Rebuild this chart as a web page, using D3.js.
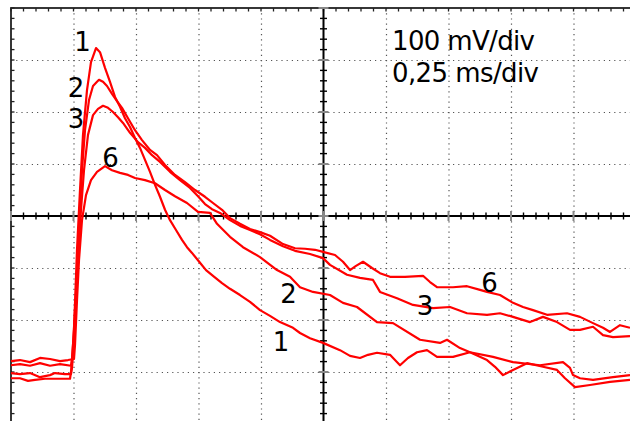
<!DOCTYPE html>
<html>
<head>
<meta charset="utf-8">
<script src="https://cdn.jsdelivr.net/npm/d3@7"></script>
<style>
  html, body { margin: 0; padding: 0; background: #fff; overflow: hidden; }
  svg { display: block; }
  text { font-family: "DejaVu Sans", Verdana, sans-serif; fill: #000; }
</style>
</head>
<body>
<script>
// Scope traces: [time in ms, voltage in mV], screen centre = 0 mV
var trace1 = [[0,-287],[0.036,-285],[0.076,-288],[0.116,-283],[0.156,-288],[0.196,-285],[0.240,-288],
  [0.244,-277],[0.252,-219],[0.264,-65],[0.276,50],[0.288,156],[0.304,242],[0.320,296],[0.340,323],
  [0.356,315],[0.376,285],[0.396,258],[0.416,229],[0.436,210],[0.456,188],[0.476,171],[0.496,150],
  [0.516,131],[0.536,108],[0.556,85],[0.576,60],[0.596,37],[0.616,12],[0.636,-8],[0.660,-27],
  [0.684,-46],[0.704,-60],[0.724,-71],[0.756,-90],[0.780,-104],[0.808,-115],[0.844,-129],[0.876,-140],
  [0.916,-152],[0.956,-165],[0.996,-181],[1.036,-192],[1.076,-204],[1.128,-215],[1.156,-225],
  [1.196,-235],[1.248,-244],[1.316,-258],[1.356,-269],[1.396,-273],[1.428,-267],[1.464,-263],
  [1.516,-267],[1.556,-287],[1.588,-273],[1.624,-262],[1.664,-258],[1.704,-271],[1.768,-271],
  [1.836,-262],[1.904,-277],[1.936,-290],[1.968,-306],[2.008,-296],[2.064,-283],[2.128,-290],
  [2.184,-296],[2.216,-312],[2.256,-329],[2.316,-325],[2.396,-319],[2.476,-315]];

var trace2 = [[0,-302],[0.036,-304],[0.076,-302],[0.116,-310],[0.156,-306],[0.176,-302],[0.216,-304],
  [0.240,-304],[0.244,-292],[0.252,-238],[0.260,-162],[0.272,-27],[0.284,88],[0.296,165],[0.312,223],
  [0.328,250],[0.344,258],[0.352,262],[0.368,258],[0.384,250],[0.404,235],[0.424,221],[0.444,208],
  [0.468,188],[0.496,165],[0.524,146],[0.556,127],[0.584,117],[0.616,98],[0.656,79],[0.696,65],
  [0.736,50],[0.776,37],[0.808,25],[0.844,12],[0.876,-4],[0.916,-15],[0.956,-25],[0.996,-31],
  [1.036,-38],[1.088,-54],[1.136,-62],[1.176,-63],[1.216,-65],[1.248,-69],[1.296,-75],[1.328,-88],
  [1.356,-104],[1.380,-96],[1.408,-88],[1.444,-100],[1.476,-110],[1.516,-117],[1.576,-117],
  [1.648,-115],[1.676,-127],[1.704,-137],[1.768,-137],[1.824,-135],[1.876,-142],[1.904,-146],
  [1.956,-152],[2.008,-167],[2.048,-175],[2.088,-181],[2.144,-190],[2.224,-187],[2.276,-194],
  [2.328,-206],[2.368,-215],[2.396,-223],[2.436,-210],[2.476,-215]];

var trace3 = [[0,-312],[0.036,-312],[0.068,-317],[0.096,-315],[0.136,-313],[0.176,-313],[0.236,-313],
  [0.240,-300],[0.248,-248],[0.256,-181],[0.268,-85],[0.280,12],[0.292,88],[0.308,156],[0.328,194],
  [0.348,206],[0.368,212],[0.388,208],[0.408,200],[0.428,190],[0.448,179],[0.476,160],[0.508,142],
  [0.536,131],[0.564,117],[0.596,104],[0.636,85],[0.676,69],[0.716,54],[0.748,38],[0.776,23],
  [0.804,13],[0.836,6],[0.876,-8],[0.916,-19],[0.956,-27],[0.996,-35],[1.036,-46],[1.088,-58],
  [1.136,-67],[1.196,-73],[1.248,-81],[1.276,-94],[1.344,-113],[1.396,-119],[1.448,-123],
  [1.476,-146],[1.544,-158],[1.608,-171],[1.688,-177],[1.756,-175],[1.824,-187],[1.904,-190],
  [1.956,-187],[2.008,-194],[2.076,-204],[2.128,-194],[2.184,-204],[2.236,-219],[2.276,-219],
  [2.328,-213],[2.368,-229],[2.408,-233],[2.476,-231]];

var trace6 = [[0,-279],[0.036,-277],[0.076,-281],[0.116,-273],[0.156,-275],[0.196,-279],[0.228,-277],
  [0.252,-275],[0.256,-248],[0.264,-162],[0.272,-85],[0.284,-8],[0.300,40],[0.320,69],[0.344,85],
  [0.376,96],[0.404,88],[0.436,83],[0.468,79],[0.496,73],[0.536,69],[0.576,63],[0.616,50],
  [0.656,38],[0.704,25],[0.748,8],[0.796,6],[0.824,-15],[0.876,-40],[0.928,-60],[0.996,-79],
  [1.064,-104],[1.116,-117],[1.156,-137],[1.208,-146],[1.276,-152],[1.328,-167],[1.384,-175],
  [1.464,-204],[1.528,-206],[1.636,-238],[1.716,-244],[1.744,-238],[1.796,-254],[1.836,-262],
  [1.928,-271],[2.008,-281],[2.116,-287],[2.208,-281],[2.236,-292],[2.248,-306],[2.276,-312],
  [2.328,-315],[2.408,-310],[2.476,-306]];

var traces = [trace1, trace2, trace3, trace6];

// Trace numbers: [text, time ms, mV at baseline]
var traceLabels = [['1',0.286,317],['2',0.260,229],['3',0.260,169],['6',0.398,94],
  ['2',1.110,-167],['1',1.080,-260],['3',1.656,-190],['6',1.914,-146]];

var scaleText = ['100 mV/div', '0,25 ms/div'];

var w = 630, h = 421;
var msPerDiv = 0.25, mvPerDiv = 100;

var x = d3.scaleLinear().domain([0, 10 * msPerDiv]).range([11, 636]);
var y = d3.scaleLinear().domain([-4 * mvPerDiv, 4 * mvPerDiv]).range([424, 8]);

var svg = d3.select('body').append('svg')
  .attr('width', w)
  .attr('height', h);

// dotted division lines
var xMajor = d3.range(1, 10).filter(function(k) { return k !== 5; }).map(function(k) { return k * msPerDiv; });
var yMajor = d3.range(-3, 4).filter(function(k) { return k !== 0; }).map(function(k) { return k * mvPerDiv; });

svg.selectAll('line.vgrid')
  .data(xMajor)
  .enter().append('line')
  .attr('class', 'vgrid')
  .attr('x1', function(d) { return x(d) + 0.5; })
  .attr('x2', function(d) { return x(d) + 0.5; })
  .attr('y1', y(400))
  .attr('y2', y(-400))
  .attr('stroke', '#555')
  .attr('stroke-width', 1.2)
  .attr('stroke-dasharray', '1.2,4');

svg.selectAll('line.hgrid')
  .data(yMajor)
  .enter().append('line')
  .attr('class', 'hgrid')
  .attr('x1', x(0))
  .attr('x2', x(2.5))
  .attr('y1', function(d) { return y(d) + 0.5; })
  .attr('y2', function(d) { return y(d) + 0.5; })
  .attr('stroke', '#555')
  .attr('stroke-width', 1.2)
  .attr('stroke-dasharray', '1.2,4');

// minor ticks (5 per division)
var xMinor = d3.range(0, 51).map(function(i) { return i * msPerDiv / 5; });
var yMinor = d3.range(0, 41).map(function(i) { return -400 + i * mvPerDiv / 5; });

function isMajor(v, step) {
  var r = Math.abs(v / step - Math.round(v / step));
  return r < 1e-6;
}

// ticks on the frame
svg.selectAll('line.ttick')
  .data(xMinor)
  .enter().append('line')
  .attr('x1', function(d) { return x(d); })
  .attr('x2', function(d) { return x(d); })
  .attr('y1', y(400))
  .attr('y2', y(400) + 3.5)
  .attr('stroke', '#222')
  .attr('stroke-width', 1.3);

svg.selectAll('line.ltick')
  .data(yMinor)
  .enter().append('line')
  .attr('x1', x(0))
  .attr('x2', x(0) + 3.5)
  .attr('y1', function(d) { return y(d); })
  .attr('y2', function(d) { return y(d); })
  .attr('stroke', '#222')
  .attr('stroke-width', 1.3);

// frame
svg.append('rect')
  .attr('x', x(0))
  .attr('y', y(400))
  .attr('width', x(2.5) - x(0))
  .attr('height', y(-400) - y(400))
  .attr('fill', 'none')
  .attr('stroke', '#222')
  .attr('stroke-width', 1.8);

// centre axes
svg.append('line')
  .attr('x1', x(0)).attr('x2', x(2.5))
  .attr('y1', y(0)).attr('y2', y(0))
  .attr('stroke', '#000').attr('stroke-width', 2);

svg.append('line')
  .attr('x1', x(1.25)).attr('x2', x(1.25))
  .attr('y1', y(400)).attr('y2', y(-400))
  .attr('stroke', '#000').attr('stroke-width', 2);

svg.selectAll('line.xctick')
  .data(xMinor)
  .enter().append('line')
  .attr('x1', function(d) { return x(d); })
  .attr('x2', function(d) { return x(d); })
  .attr('y1', function(d) { return y(0) - (isMajor(d, msPerDiv) ? 5 : 3.5); })
  .attr('y2', function(d) { return y(0) + (isMajor(d, msPerDiv) ? 5 : 3.5); })
  .attr('stroke', function(d) { return isMajor(d, msPerDiv) ? '#888' : '#000'; })
  .attr('stroke-width', function(d) { return isMajor(d, msPerDiv) ? 2 : 1.4; });

svg.selectAll('line.yctick')
  .data(yMinor)
  .enter().append('line')
  .attr('x1', function(d) { return x(1.25) - (isMajor(d, mvPerDiv) ? 5 : 3.5); })
  .attr('x2', function(d) { return x(1.25) + (isMajor(d, mvPerDiv) ? 5 : 3.5); })
  .attr('y1', function(d) { return y(d); })
  .attr('y2', function(d) { return y(d); })
  .attr('stroke', function(d) { return isMajor(d, mvPerDiv) ? '#888' : '#000'; })
  .attr('stroke-width', function(d) { return isMajor(d, mvPerDiv) ? 2 : 1.4; });

// traces
var line = d3.line()
  .x(function(d) { return x(d[0]); })
  .y(function(d) { return y(d[1]); });

svg.selectAll('path.trace')
  .data(traces)
  .enter().append('path')
  .attr('class', 'trace')
  .attr('d', line)
  .attr('fill', 'none')
  .attr('stroke', '#ff0000')
  .attr('stroke-width', 2.2)
  .attr('stroke-linejoin', 'round');

// trace numbers
svg.selectAll('text.num')
  .data(traceLabels)
  .enter().append('text')
  .attr('class', 'num')
  .attr('x', function(d) { return x(d[1]); })
  .attr('y', function(d) { return y(d[2]); })
  .attr('text-anchor', 'middle')
  .attr('font-size', '26px')
  .text(function(d) { return d[0]; });

// scale settings
svg.selectAll('text.scale')
  .data(scaleText)
  .enter().append('text')
  .attr('class', 'scale')
  .attr('x', x(1.524))
  .attr('y', function(d, i) { return i === 0 ? y(319) : y(258); })
  .attr('font-size', '26px')
  .attr('textLength', function(d, i) { return i === 0 ? 143 : 147; })
  .text(function(d) { return d; });
</script>
</body>
</html>
